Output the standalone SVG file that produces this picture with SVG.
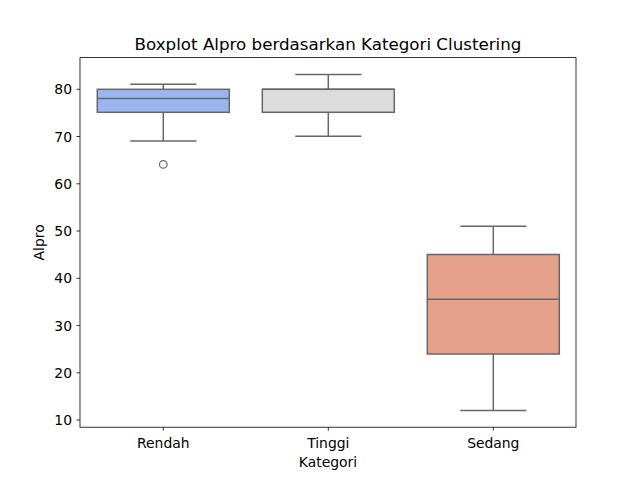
<svg xmlns="http://www.w3.org/2000/svg" width="640" height="480" viewBox="0 0 640 480">
<style>
text{font-family:"DejaVu Sans",sans-serif;fill:#000}
.tick{font-size:13.9px}
.lab{font-size:13.9px}
.ln{stroke:#676767;stroke-width:1.5;fill:none}
.box{stroke:#676767;stroke-width:1.5}
.tk{stroke:#000;stroke-width:0.8}
</style>
<rect width="640" height="480" fill="#fff"/>
<text x="328" y="49.5" font-size="16.7" text-anchor="middle">Boxplot Alpro berdasarkan Kategori Clustering</text>
<g id="connectors">
<!-- Rendah whiskers -->
<line class="ln" x1="163.3" y1="89.3" x2="163.3" y2="84.3"/>
<line class="ln" x1="130.3" y1="84.3" x2="196.4" y2="84.3"/>
<line class="ln" x1="163.3" y1="112.3" x2="163.3" y2="141"/>
<line class="ln" x1="130.3" y1="141" x2="196.4" y2="141"/>
<!-- Tinggi whiskers -->
<line class="ln" x1="328.3" y1="89.3" x2="328.3" y2="74.5"/>
<line class="ln" x1="295.3" y1="74.5" x2="361.4" y2="74.5"/>
<line class="ln" x1="328.3" y1="112.3" x2="328.3" y2="136.3"/>
<line class="ln" x1="295.3" y1="136.3" x2="361.4" y2="136.3"/>
<!-- Sedang whiskers -->
<line class="ln" x1="493.3" y1="254.5" x2="493.3" y2="226.2"/>
<line class="ln" x1="460.3" y1="226.2" x2="526.4" y2="226.2"/>
<line class="ln" x1="493.3" y1="354" x2="493.3" y2="410.4"/>
<line class="ln" x1="460.3" y1="410.4" x2="526.4" y2="410.4"/>
</g>
<g id="rendah">
<rect class="box" x="97.3" y="89.3" width="132" height="23" fill="#9bb5f0"/>
<line class="ln" x1="97.3" y1="98.5" x2="229.3" y2="98.5"/>
<circle cx="163.3" cy="164.4" r="3.8" fill="none" stroke="#676767" stroke-width="1.2"/>
</g>
<g id="tinggi">
<rect class="box" x="262.3" y="89.3" width="132" height="23" fill="#dcdcdc"/>
<line class="ln" x1="262.3" y1="89.3" x2="394.3" y2="89.3"/>
</g>
<g id="sedang">
<rect class="box" x="427.3" y="254.5" width="132" height="99.5" fill="#e5a18a"/>
<line class="ln" x1="427.3" y1="299.3" x2="559.3" y2="299.3"/>
</g>
<g id="axes">
<rect x="80" y="57.6" width="496" height="369.6" fill="none" stroke="#000" stroke-width="0.8"/>
<g class="tk">
<line x1="76.5" y1="89.3" x2="80" y2="89.3"/>
<line x1="76.5" y1="136.5" x2="80" y2="136.5"/>
<line x1="76.5" y1="183.8" x2="80" y2="183.8"/>
<line x1="76.5" y1="231" x2="80" y2="231"/>
<line x1="76.5" y1="278.3" x2="80" y2="278.3"/>
<line x1="76.5" y1="325.6" x2="80" y2="325.6"/>
<line x1="76.5" y1="372.8" x2="80" y2="372.8"/>
<line x1="76.5" y1="420" x2="80" y2="420"/>
<line x1="163.3" y1="427.2" x2="163.3" y2="430.7"/>
<line x1="328.3" y1="427.2" x2="328.3" y2="430.7"/>
<line x1="493.3" y1="427.2" x2="493.3" y2="430.7"/>
</g>
<g class="tick" text-anchor="end">
<text x="72" y="94.3">80</text>
<text x="72" y="141.5">70</text>
<text x="72" y="188.8">60</text>
<text x="72" y="236">50</text>
<text x="72" y="283.3">40</text>
<text x="72" y="330.6">30</text>
<text x="72" y="377.8">20</text>
<text x="72" y="425">10</text>
</g>
<g class="tick" text-anchor="middle">
<text x="163.3" y="447.5">Rendah</text>
<text x="328.3" y="447.5">Tinggi</text>
<text x="493.3" y="447.5">Sedang</text>
</g>
<text class="lab" x="328" y="467" text-anchor="middle">Kategori</text>
<text class="lab" x="0" y="0" text-anchor="middle" transform="translate(44 242.4) rotate(-90)">Alpro</text>
</g>
</svg>
